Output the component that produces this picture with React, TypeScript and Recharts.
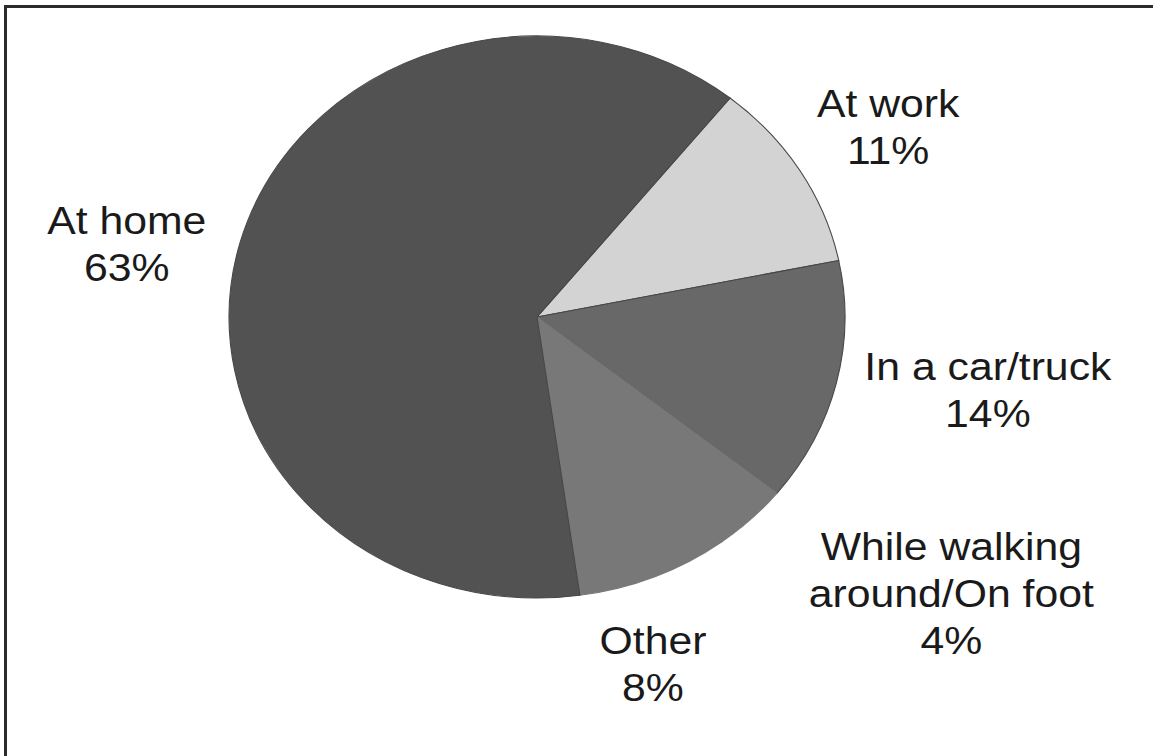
import { PieChart, Pie, Cell } from "recharts";

// where people are when they use the service (share of respondents, %)
const categories = ["At work", "In a car/truck", "While walking around/On foot", "Other", "At home"];
const shares = [11, 14, 4, 8, 63];
const labelLines = [["At work"], ["In a car/truck"], ["While walking", "around/On foot"], ["Other"], ["At home"]];

const SLICE_COLORS = ["#d3d3d3", "#686868", "#787878", "#787878", "#525252"];
// walking and other share a shade in the original, so no seam between them
const SLICE_STROKES = ["#474747", "#474747", "#787878", "#787878", "#474747"];
// small per-label nudges so text sits where the original put it
const LABEL_NUDGE = [
  { dx: -4, dy: 8 },
  { dx: 42, dy: -16 },
  { dx: 114, dy: 3 },
  { dx: -39, dy: -4 },
  { dx: -8, dy: 28 },
];

const STRETCH_X = 1.096; // source image is a bit wider than tall
const W = 1052;
const H = 756;
const LINE_GAP = 47;
const LABEL_R = 380;

const data = categories.map((name, i) => ({ name, value: shares[i] }));

const renderLabel = (props: any) => {
  const { cx, cy, midAngle, index } = props;
  const rad = (Math.PI / 180) * midAngle;
  const x = cx + LABEL_R * Math.cos(rad) + LABEL_NUDGE[index].dx;
  const y = cy - LABEL_R * Math.sin(rad) + LABEL_NUDGE[index].dy;
  const lines = [...labelLines[index], `${shares[index]}%`];
  const top = y - ((lines.length - 1) * LINE_GAP) / 2;
  return (
    <text
      x={x}
      y={top}
      textAnchor="middle"
      dominantBaseline="central"
      fill="#1a1a1a"
      fontSize={39}
      fontFamily="'Liberation Sans', Arial, sans-serif"
    >
      {lines.map((l, k) => (
        <tspan key={k} x={x} y={top + k * LINE_GAP}>
          {l}
        </tspan>
      ))}
    </text>
  );
};

export default function App() {
  return (
    <div
      style={{
        position: "absolute",
        left: 0,
        top: 0,
        width: 1153,
        height: 756,
        background: "#fff",
        overflow: "hidden",
      }}
    >
      <div
        style={{
          position: "absolute",
          left: 4,
          top: 5,
          right: 0,
          bottom: 0,
          borderTop: "3px solid #2b2b2b",
          borderLeft: "3px solid #2b2b2b",
        }}
      />
      <div
        style={{
          position: "absolute",
          left: 0,
          top: 0,
          width: W,
          height: H,
          transform: `scale(${STRETCH_X}, 1)`,
          transformOrigin: "0 0",
        }}
      >
        <PieChart width={W} height={H} margin={{ top: 0, right: 0, bottom: 0, left: 0 }}>
          <Pie
            data={data}
            dataKey="value"
            nameKey="name"
            cx={490}
            cy={317}
            outerRadius={281}
            startAngle={51.2}
            endAngle={-308.8}
            strokeWidth={1}
            label={renderLabel}
            labelLine={false}
            isAnimationActive={false}
          >
            {data.map((d, i) => (
              <Cell key={d.name} fill={SLICE_COLORS[i]} stroke={SLICE_STROKES[i]} />
            ))}
          </Pie>
        </PieChart>
      </div>
    </div>
  );
}
